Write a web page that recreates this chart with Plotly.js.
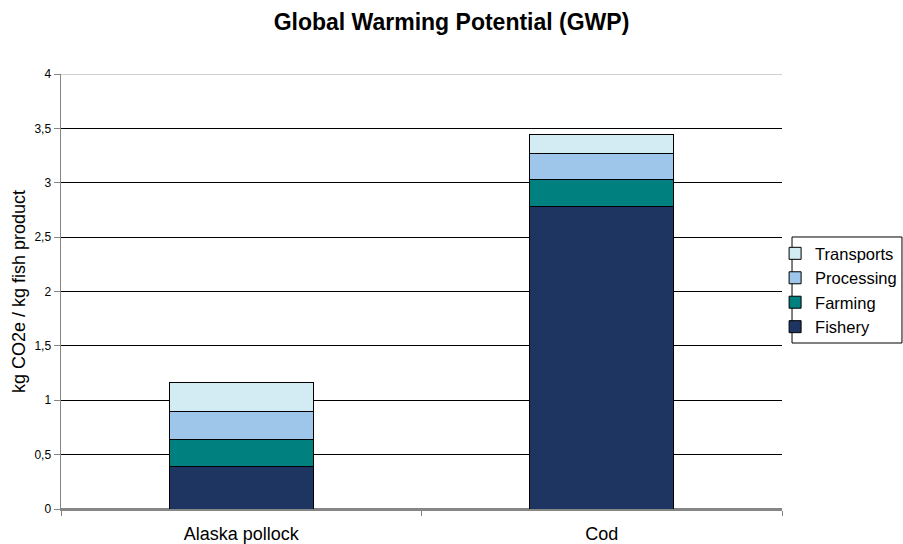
<!DOCTYPE html>
<html>
<head>
<meta charset="utf-8">
<script src="https://cdn.plot.ly/plotly-3.0.1.min.js"></script>
<style>
  html, body { margin: 0; padding: 0; background: #ffffff; }
  #chart { width: 903px; height: 544px; }
</style>
</head>
<body>
<div id="chart"></div>
<script>
// Species compared
const species = ["Alaska pollock", "Cod"];

// Life-cycle stage contributions, kg CO2e per kg fish product
const fishery    = [0.39, 2.78];
const farming    = [0.25, 0.25];
const processing = [0.26, 0.24];
const transports = [0.26, 0.17];

// Stage names and fill colours, stacked bottom to top
const stageNames  = ["Fishery", "Farming", "Processing", "Transports"];
const stageValues = [fishery, farming, processing, transports];
const stageColors = ["#1d3560", "#00807f", "#9ec6ea", "#d3ecf3"];

const yRange = [0, 4];
const FONT = "Liberation Sans, Arial, Helvetica, sans-serif";

const traces = stageNames.map((name, i) => ({
  type: "bar",
  name: name,
  x: species,
  y: stageValues[i],
  marker: { color: stageColors[i], line: { color: "#000000", width: 1 } },
  hoverinfo: "x+y+name"
}));

const layout = {
  width: 903,
  height: 544,
  paper_bgcolor: "#ffffff",
  plot_bgcolor: "#ffffff",
  font: { family: FONT, color: "#000000" },
  separators: ",.",
  margin: { l: 61, r: 121, t: 74, b: 35, pad: 0, autoexpand: false },
  barmode: "stack",
  bargap: 0.6,
  title: {
    text: "<b>Global Warming Potential (GWP)</b>",
    font: { family: FONT, size: 23, color: "#000000" },
    x: 0.5, xref: "container", xanchor: "center",
    y: 0.96, yref: "container", yanchor: "middle"
  },
  xaxis: {
    type: "category",
    showline: true, linecolor: "#868686", linewidth: 1.5,
    ticks: "outside", tickson: "boundaries", ticklen: 5, tickcolor: "#868686", tickwidth: 1,
    tickfont: { family: FONT, size: 18, color: "#000000" },
    ticklabelstandoff: 8,
    showgrid: false, automargin: false, fixedrange: true
  },
  yaxis: {
    range: yRange,
    dtick: 0.5,
    tickformat: ".1~f",
    showline: true, linecolor: "#868686", linewidth: 1.5,
    ticks: "outside", ticklen: 6, tickcolor: "#868686", tickwidth: 1,
    tickfont: { family: FONT, size: 12, color: "#000000" },
    showgrid: true, gridcolor: "#000000", gridwidth: 1,
    zeroline: true, zerolinecolor: "#868686", zerolinewidth: 1.5,
    title: { text: "kg CO2e / kg fish product", standoff: 4,
             font: { family: FONT, size: 18, color: "#000000" } },
    automargin: false, fixedrange: true
  },
  legend: {
    traceorder: "reversed",
    xref: "container", x: 0.999, xanchor: "right",
    yref: "container", y: 0.566, yanchor: "top",
    bgcolor: "rgba(0,0,0,0)",
    borderwidth: 0,
    font: { family: FONT, size: 16.5, color: "#000000" },
    itemwidth: 30
  },
  shapes: [
    // top edge of the plot area in light grey
    { type: "line", xref: "paper", yref: "y", x0: 0, x1: 1, y0: yRange[1], y1: yRange[1],
      line: { color: "#d0d0d0", width: 2 }, layer: "above" },
    // legend frame
    { type: "rect", xref: "paper", yref: "paper", x0: 1.0139, x1: 1.1664, y0: 0.3816, y1: 0.6253,
      line: { color: "#000000", width: 1 }, fillcolor: "rgba(0,0,0,0)", layer: "below" }
  ]
};

Plotly.newPlot("chart", traces, layout, { displayModeBar: false, staticPlot: true });
</script>
</body>
</html>
